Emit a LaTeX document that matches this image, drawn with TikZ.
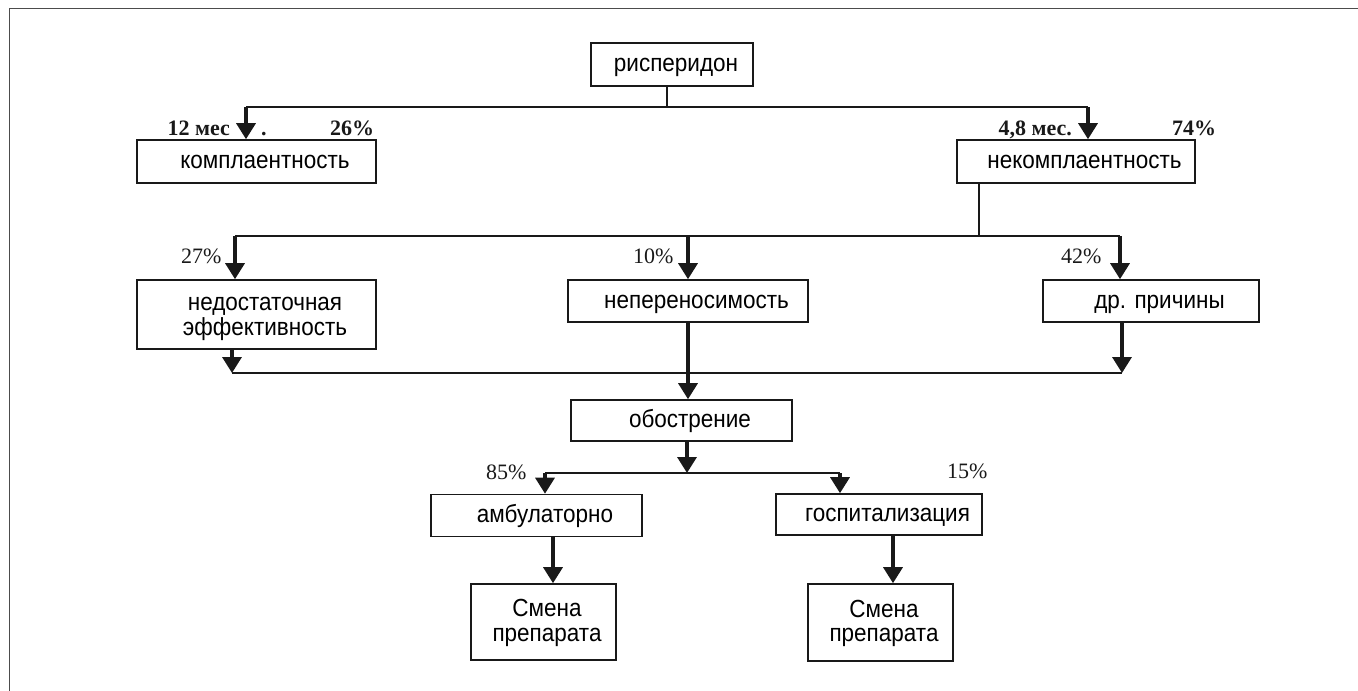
\documentclass[tikz,border=0pt]{standalone}
\usepackage{fontspec}
\usepackage{graphicx}
\setmainfont{Liberation Serif}
\setsansfont{Liberation Sans}
\usetikzlibrary{arrows.meta}
% box captions are set slightly taller than the plain face
\newcommand\tx[2][17pt]{\hspace*{#1}\scalebox{1}[1.1]{#2}}

\begin{document}
\begin{tikzpicture}[x=1pt,y=-1pt,
  box/.style={draw=black!90, line width=1.6pt, inner sep=0pt,
    font=\sffamily\fontsize{22.5}{24.5}\selectfont, align=center},
  one/.style={text height=14.9pt, text depth=0pt},
  two/.style={text height=41pt, text depth=0pt},
  flow/.style={draw=black!90, line width=3.4pt, -{Triangle[width=19pt,length=16pt]}},
  bus/.style={draw=black!90, line width=1.8pt},
  pct/.style={font=\fontsize{22}{24}\selectfont, anchor=base west, inner sep=0pt, text=black!90},
  bpct/.style={pct, font=\bfseries\fontsize{22}{24}\selectfont},
]
\useasboundingbox (0,0) rectangle (1358,691);
% page frame
\draw[line width=1.6pt, black!70] (9.5,691) -- (9.5,8.3) -- (1358,8.3);

% boxes
\node[box,one,minimum width=162,minimum height=43] (risp) at (672,64.5) {\tx[8pt]{рисперидон}};
\node[box,one,minimum width=239,minimum height=43] (kompl) at (256.5,161.5) {\tx{комплаентность}};
\node[box,one,minimum width=238,minimum height=43] (nekompl) at (1076,161.5) {\tx{некомплаентность}};
\node[box,two,minimum width=239,minimum height=69] (nedost) at (256.5,314.5) {\tx{недостаточная}\\\tx{эффективность}};
\node[box,one,minimum width=240,minimum height=42] (neper) at (688,301) {\tx{непереносимость}};
\node[box,one,minimum width=216,minimum height=42] (dr) at (1151,301) {\tx{др. причины}};
\node[box,one,minimum width=221,minimum height=41] (obostr) at (681.5,420.5) {\tx{обострение}};
\node[box,one,minimum width=211,minimum height=42] (ambul) at (536.5,515.5) {\tx{амбулаторно}};
\node[box,one,minimum width=206,minimum height=41] (gosp) at (879,514.5) {\tx{госпитализация}};
\node[box,two,text height=38pt,minimum width=145,minimum height=76] (smena1) at (543.5,622) {\tx[7pt]{Смена}\\\tx[7pt]{препарата}};
\node[box,two,text height=38pt,minimum width=145,minimum height=77] (smena2) at (880.5,622.5) {\tx[7pt]{Смена}\\\tx[7pt]{препарата}};

% junction points of the branch lines
\coordinate (b1m) at (667,107);
\coordinate (b1L) at (246,107);
\coordinate (b1R) at (1088,107);
\coordinate (b2m) at (979,236);
\coordinate (b2L) at (235,236);
\coordinate (b2C) at (688,236);
\coordinate (b2R) at (1120,236);
\coordinate (b3L) at (232,373);
\coordinate (b3R) at (1122,373);
\coordinate (b4m) at (687,473);
\coordinate (b4L) at (545,473);
\coordinate (b4R) at (840,473);
\coordinate (c1) at (553,560);
\coordinate (c2) at (893,560);

% first split
\draw[bus] (b1m |- risp.south) -- (b1m);
\draw[bus] (b1L) -- (b1R);
\draw[flow] (b1L) -- (b1L |- kompl.north);
\draw[flow] (b1R) -- (b1R |- nekompl.north);

% reasons of non-compliance
\draw[bus] (b2m |- nekompl.south) -- (b2m);
\draw[bus] (b2L) -- (b2R);
\draw[flow] (b2L) -- (b2L |- nedost.north);
\draw[flow] (b2C) -- (b2C |- neper.north);
\draw[flow] (b2R) -- (b2R |- dr.north);

% merge into exacerbation
\draw[bus] (b3L) -- (b3R);
\draw[flow] (b3L |- nedost.south) -- (b3L);
\draw[flow] (b3R |- dr.south) -- (b3R);
\draw[flow] (b2C |- neper.south) -- (b2C |- obostr.north);

% treatment setting
\draw[flow] (b4m |- obostr.south) -- (b4m);
\draw[bus] (b4L) -- (b4R);
\draw[flow] (b4L) -- (b4L |- ambul.north);
\draw[flow] (b4R) -- (b4R |- gosp.north);
\draw[flow] (c1 |- ambul.south) -- (c1 |- smena1.north);
\draw[flow] (c2 |- gosp.south) -- (c2 |- smena2.north);

% labels
\node[bpct, anchor=base east] (l12) at (230,135) {12 мес};
\node[bpct] (ldot) at (261,135) {.};
\node[bpct] (l26) at (330,135) {26\%};
\node[bpct, anchor=base east] (l48) at (1072,135) {4,8 мес.};
\node[bpct] (l74) at (1172,135) {74\%};
\node[pct] (l27) at (181,263) {27\%};
\node[pct] (l10) at (633,263) {10\%};
\node[pct] (l42) at (1061,263) {42\%};
\node[pct] (l85) at (486,479) {85\%};
\node[pct] (l15) at (947,478) {15\%};
\end{tikzpicture}
\end{document}
